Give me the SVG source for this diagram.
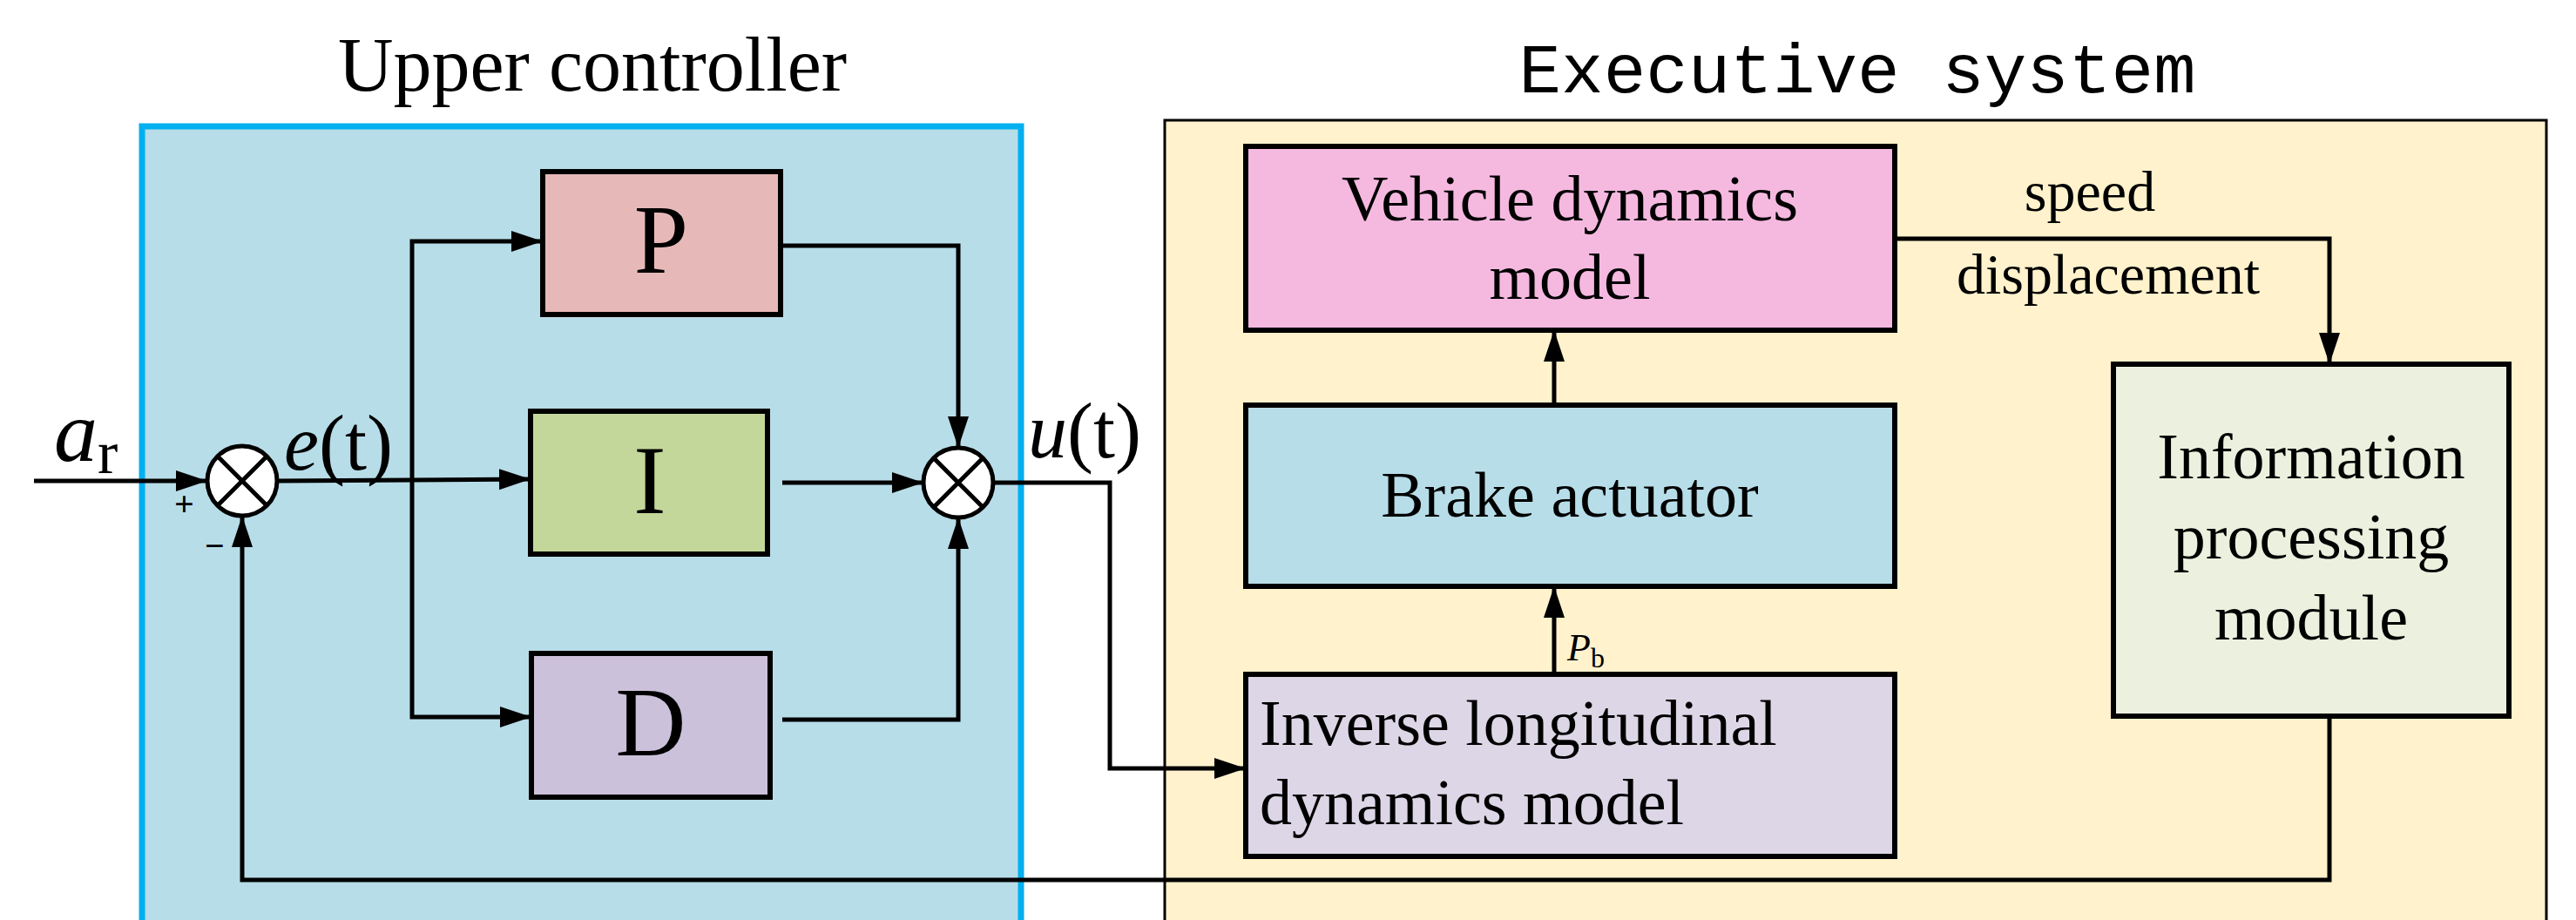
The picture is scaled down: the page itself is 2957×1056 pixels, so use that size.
<svg xmlns="http://www.w3.org/2000/svg" width="2957" height="1056" viewBox="0 0 2957 1056">
<style>
.t{font-family:"Liberation Serif",serif;fill:#000}
.b{stroke:#000;stroke-width:6}
.c{fill:none;stroke:#000;stroke-width:5}
</style>
<defs>
<marker id="a" markerWidth="36" markerHeight="24" refX="36" refY="12" orient="auto" markerUnits="userSpaceOnUse"><path d="M0,0 L36,12 L0,24 Z" fill="#000"/></marker>
</defs>
<rect width="2957" height="1056" fill="#fff"/>
<g id="upper">
<rect x="163" y="145" width="1009" height="920" fill="#b7dde8" stroke="#00b0f0" stroke-width="7"/>
<text class="t" x="680" y="104" font-size="88" text-anchor="middle">Upper controller</text>
</g>
<g id="exec">
<rect x="1337" y="138" width="1586" height="930" fill="#fff2cc" stroke="#000" stroke-width="3"/>
<text x="2132" y="106" font-family="Liberation Mono,monospace" font-size="80" text-anchor="middle" textLength="777" lengthAdjust="spacingAndGlyphs">Executive system</text>
</g>
<g id="P"><rect class="b" x="623" y="197" width="273" height="164" fill="#e6b9b8"/><text class="t" x="759" y="313" font-size="112" text-anchor="middle">P</text></g>
<g id="I"><rect class="b" x="609" y="472" width="272" height="164" fill="#c4d79b"/><text class="t" x="746" y="589" font-size="112" text-anchor="middle">I</text></g>
<g id="D"><rect class="b" x="610" y="750" width="274" height="165" fill="#ccc1da"/><text class="t" x="747" y="867" font-size="112" text-anchor="middle">D</text></g>
<g id="sum1"><circle cx="278" cy="552" r="40" fill="#fff" stroke="#000" stroke-width="5"/><path class="c" d="M250,524 L306,580 M306,524 L250,580"/></g>
<g id="sum2"><circle cx="1100" cy="554" r="40" fill="#fff" stroke="#000" stroke-width="5"/><path class="c" d="M1072,526 L1128,582 M1128,526 L1072,582"/></g>
<g id="vehicle"><rect class="b" x="1430" y="168" width="745" height="211" fill="#f5b9e0"/>
<text class="t" x="1802" y="253" font-size="74" text-anchor="middle">Vehicle dynamics</text>
<text class="t" x="1802" y="343" font-size="74" text-anchor="middle">model</text></g>
<g id="brake"><rect class="b" x="1430" y="465" width="745" height="208" fill="#b7dde8"/>
<text class="t" x="1802" y="593" font-size="74" text-anchor="middle">Brake actuator</text></g>
<g id="inverse"><rect class="b" x="1430" y="774" width="745" height="209" fill="#dcd6e6"/>
<text class="t" x="1446" y="855" font-size="74">Inverse longitudinal</text>
<text class="t" x="1446" y="946" font-size="74">dynamics model</text></g>
<g id="info"><rect class="b" x="2426" y="418" width="454" height="404" fill="#ebf1de"/>
<text class="t" x="2653" y="549" font-size="74" text-anchor="middle">Information</text>
<text class="t" x="2653" y="641" font-size="74" text-anchor="middle">processing</text>
<text class="t" x="2653" y="734" font-size="74" text-anchor="middle">module</text></g>
<g id="labels">
<text class="t" x="62" y="529" font-size="100" font-style="italic">a<tspan font-style="normal" font-size="70" dy="14">r</tspan></text>
<text class="t" x="200" y="592" font-size="40" font-weight="bold">+</text>
<text class="t" x="235" y="640" font-size="40" font-weight="bold">−</text>
<text class="t" x="326" y="539" font-size="90"><tspan font-style="italic">e</tspan>(t)</text>
<text class="t" x="1180" y="525" font-size="90"><tspan font-style="italic">u</tspan>(t)</text>
<text class="t" x="1799" y="758" font-size="44" font-style="italic">P<tspan font-style="normal" font-size="32" dy="8">b</tspan></text>
<text class="t" x="2399" y="242" font-size="66" text-anchor="middle">speed</text>
<text class="t" x="2420" y="337" font-size="66" text-anchor="middle">displacement</text>
</g>
<g id="connectors" class="c">
<path class="c" d="M39,552 L238,552" marker-end="url(#a)"/>
<path class="c" d="M318,552 L609,550" marker-end="url(#a)"/>
<path class="c" d="M473,550 L473,277 L623,277" marker-end="url(#a)"/>
<path class="c" d="M473,550 L473,823 L610,823" marker-end="url(#a)"/>
<path class="c" d="M896,282 L1100,282 L1100,514" marker-end="url(#a)"/>
<path class="c" d="M898,554 L1060,554" marker-end="url(#a)"/>
<path class="c" d="M898,826 L1100,826 L1100,594" marker-end="url(#a)"/>
<path class="c" d="M1140,554 L1274,554 L1274,882 L1430,882" marker-end="url(#a)"/>
<path class="c" d="M1784,774 L1784,673" marker-end="url(#a)"/>
<path class="c" d="M1784,465 L1784,379" marker-end="url(#a)"/>
<path class="c" d="M2175,274 L2674,274 L2674,418" marker-end="url(#a)"/>
<path class="c" d="M2674,822 L2674,1010 L278,1010 L278,592" marker-end="url(#a)"/>
</g>
</svg>
